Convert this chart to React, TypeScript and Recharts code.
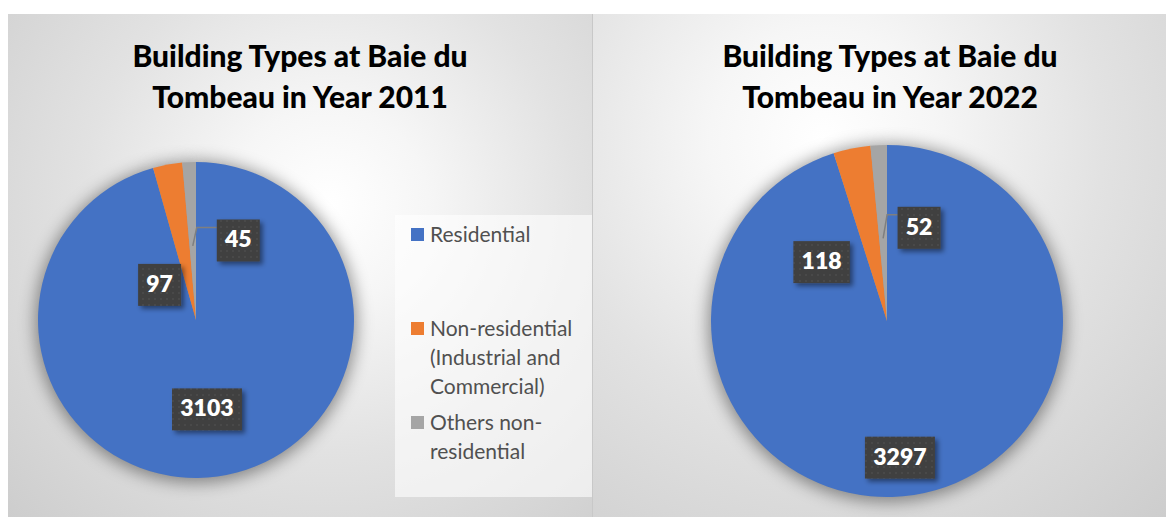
import React from 'react';
import { PieChart, Pie, Cell, Legend } from 'recharts';

// categories and values
const categories = ['Residential', 'Non-residential (Industrial and Commercial)', 'Others non-residential'];
const legendLines = [['Residential'], ['Non-residential', '(Industrial and', 'Commercial)'], ['Others non-', 'residential']];
const values2011 = [3103, 97, 45];
const values2022 = [3297, 118, 52];
const colors = ['#4472C4', '#ED7D31', '#A5A5A5'];

const titles = [
  ['Building Types at Baie du', 'Tombeau in Year 2011'],
  ['Building Types at Baie du', 'Tombeau in Year 2022'],
];

// where Excel "best fit" put each data label (angle in deg, distance as share of radius)
const labelSpots2011 = [
  { angle: -83, dist: 0.57 },
  { angle: 136, dist: 0.32 },
  { angle: 62, dist: 0.57 },
];
const labelSpots2022 = [
  { angle: -84.6, dist: 0.78 },
  { angle: 138, dist: 0.5 },
  { angle: 71, dist: 0.56 },
];

const toData = (vals: number[]) => categories.map((name, i) => ({ name, value: vals[i] }));

const RAD = Math.PI / 180;

const makeLabel = (spots: { angle: number; dist: number }[]) => (props: any) => {
  const { cx, cy, outerRadius, midAngle, value, index } = props;
  const spot = spots[index];
  const x = cx + outerRadius * spot.dist * Math.cos(spot.angle * RAD);
  const y = cy - outerRadius * spot.dist * Math.sin(spot.angle * RAD);
  const text = String(value);
  const w = 13.5 * text.length + 16;
  const h = 42;
  const left = x - w / 2;
  const top = y - h / 2;
  let leader = null;
  // small slice gets a leader line from inside the slice
  if (index === 2) {
    const sx = cx + outerRadius * 0.47 * Math.cos(midAngle * RAD);
    const sy = cy - outerRadius * 0.47 * Math.sin(midAngle * RAD);
    const ex = sx + 4;
    const ey = top + 8;
    leader = (
      <polyline
        points={`${sx},${sy} ${ex},${ey} ${left},${ey}`}
        fill="none"
        stroke="#7F7F7F"
        strokeWidth={1.5}
      />
    );
  }
  return (
    <g key={`lbl-${index}`}>
      {leader}
      <rect x={left} y={top} width={w} height={h} fill="url(#dots)" filter="url(#boxShadow)" />
      <text
        x={x}
        y={y + 1}
        textAnchor="middle"
        dominantBaseline="middle"
        fill="#FFFFFF"
        fontFamily="Lato, 'Open Sans', sans-serif"
        fontWeight={800}
        fontSize={23}
      >
        {text}
      </text>
    </g>
  );
};

const LegendBox = () => (
  <div
    style={{
      width: 197,
      height: 282,
      boxSizing: 'border-box',
      paddingTop: 4,
      background: 'rgba(255,255,255,0.6)',
      fontFamily: 'Lato, sans-serif',
      fontSize: 21,
      color: '#505050',
    }}
  >
    {legendLines.map((lines, i) => (
      <div key={i} style={{ height: 94, display: 'flex', paddingLeft: 16 }}>
        <div style={{ width: 13, height: 13, background: colors[i], marginTop: 9, marginRight: 6, flexShrink: 0 }} />
        <div style={{ lineHeight: '29px' }}>
          {lines.map((l) => (
            <div key={l}>{l}</div>
          ))}
        </div>
      </div>
    ))}
  </div>
);

const panelBg = (pos: string) =>
  `radial-gradient(circle at ${pos}, #ffffff 0%, #f6f6f6 22%, #e2e2e2 55%, #cdcdcd 100%)`;

const Title = ({ lines, shift }: { lines: string[]; shift: number }) => (
  <div
    style={{
      position: 'absolute',
      top: 21,
      left: shift,
      width: '100%',
      textAlign: 'center',
      fontFamily: 'Lato, sans-serif',
      fontWeight: 900,
      fontSize: 30,
      lineHeight: '41px',
      color: '#000',
      zIndex: 2,
    }}
  >
    {lines.map((l) => (
      <div key={l}>{l}</div>
    ))}
  </div>
);

const BuildingPie = ({
  data,
  spots,
  cx,
  cy,
  r,
  width,
  height,
  withLegend,
}: {
  data: { name: string; value: number }[];
  spots: { angle: number; dist: number }[];
  cx: number;
  cy: number;
  r: number;
  width: number;
  height: number;
  withLegend: boolean;
}) => (
  <PieChart width={width} height={height} margin={{ top: 0, right: 0, bottom: 0, left: 0 }}>
    {/* soft halo behind the pie */}
    <Pie
      className="pie-halo"
      data={data}
      dataKey="value"
      nameKey="name"
      cx={cx}
      cy={cy + 2}
      outerRadius={r + 3}
      startAngle={90}
      endAngle={-270}
      isAnimationActive={false}
      stroke="none"
      legendType="none"
      label={false}
      labelLine={false}
    >
      {data.map((d) => (
        <Cell key={d.name} fill="#000" fillOpacity={0.4} />
      ))}
    </Pie>
    <Pie
      data={data}
      dataKey="value"
      nameKey="name"
      cx={cx}
      cy={cy}
      outerRadius={r}
      startAngle={90}
      endAngle={-270}
      isAnimationActive={false}
      stroke="none"
      labelLine={false}
      label={makeLabel(spots)}
    >
      {data.map((d, i) => (
        <Cell key={d.name} fill={colors[i]} />
      ))}
    </Pie>
    {withLegend && (
      <Legend
        layout="vertical"
        align="right"
        verticalAlign="top"
        content={() => <LegendBox />}
        wrapperStyle={{ left: 387, top: 201, width: 197, height: 282 }}
      />
    )}
  </PieChart>
);

export default function App() {
  return (
    <div style={{ position: 'absolute', left: 0, top: 0, width: 1166, height: 517, background: '#fff', overflow: 'hidden' }}>
      <style>{`.pie-halo path, .pie-halo .recharts-sector { filter: blur(8px); }`}</style>
      <svg width={0} height={0} style={{ position: 'absolute' }}>
        <defs>
          <pattern id="dots" width={6} height={6} patternUnits="userSpaceOnUse">
            <rect width={6} height={6} fill="#404040" />
            <circle cx={3} cy={3} r={0.8} fill="#565656" />
          </pattern>
          <filter id="boxShadow" x="-30%" y="-30%" width="170%" height="170%">
            <feDropShadow dx={3} dy={3} stdDeviation={2.5} floodColor="#000" floodOpacity={0.45} />
          </filter>
        </defs>
      </svg>

      <div style={{ position: 'absolute', left: 8, top: 14, width: 584, height: 503, background: panelBg('55% 38%') }}>
        <Title lines={titles[0]} shift={0} />
        <div style={{ position: 'absolute', left: 0, top: 0 }}>
          <BuildingPie data={toData(values2011)} spots={labelSpots2011} cx={188} cy={306} r={158} width={584} height={503} withLegend />
        </div>
      </div>

      <div style={{ position: 'absolute', left: 592, top: 14, width: 574, height: 503, background: panelBg('40% 25%'), borderLeft: '1px solid #c8c8c8' }}>
        <Title lines={titles[1]} shift={10} />
        <div style={{ position: 'absolute', left: 0, top: 0 }}>
          <BuildingPie data={toData(values2022)} spots={labelSpots2022} cx={294} cy={307} r={176} width={574} height={503} withLegend={false} />
        </div>
      </div>
    </div>
  );
}
